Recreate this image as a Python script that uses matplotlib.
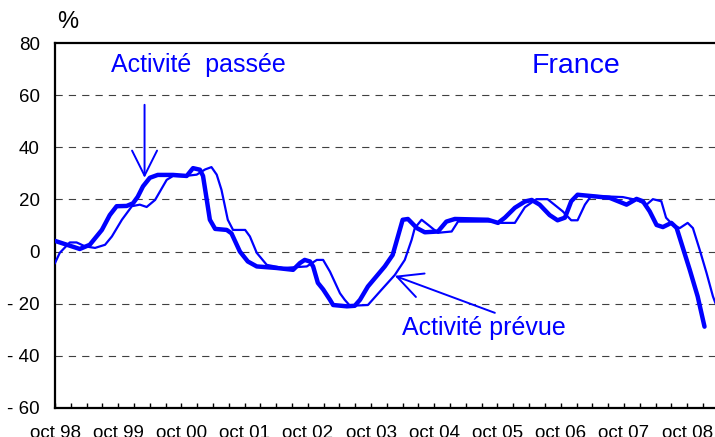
import matplotlib
matplotlib.use("Agg")
import matplotlib.pyplot as plt
from matplotlib.patches import ArrowStyle

plt.rcParams['font.family'] = ['Liberation Sans', 'DejaVu Sans']

# month index: 0 = oct 98
passee_m = [0, 4.7, 6.6, 8.9, 10.4, 11.7, 13.6, 14.8, 15.7, 16.7, 18, 19.5, 22.4, 25, 26.2,
            27.5, 28.1, 28.8, 29.4, 30.4, 32.6, 33.5, 35.1, 36.6, 38.3, 42.1, 45.2, 46.5,
            47.4, 48.4, 49, 49.9, 50.9, 52.2, 52.8, 55.4, 56.9, 57.9, 59.4, 62.6, 64.1,
            65.1, 66, 67, 68.7, 70.2, 72.7, 74.3, 75.9, 82.2, 84.1, 85.4, 87.3, 89.2, 90.5,
            92, 93.9, 95.4, 96.8, 98, 99.2, 102.8, 105.3, 108.5, 110.4, 111.6, 112.9,
            114.2, 115.4, 117, 118, 118.9, 120.5, 122, 123.3]
passee_v = [4.1, 1.0, 2.6, 8.3, 14, 17.4, 17.5, 18.5, 21, 25, 28.3, 29.4, 29.4, 29, 32,
            31.4, 29, 20, 12.2, 8.7, 8.3, 7, 0, -3.8, -5.7, -6.3, -7, -4.4,
            -3.2, -3.8, -5.7, -12, -14.5, -18.5, -20.5, -21, -20.8, -18.5, -13.4, -5.7, -1.3,
            5.8, 12.2, 12.5, 9, 7.4, 7.7, 11.5, 12.5, 12.2, 11, 13, 16.8, 19.2, 19.8,
            18, 14, 12, 13, 19.3, 21.8, 21.1, 20.6, 18, 20.2, 19.3, 15.4,
            10.2, 9.4, 11, 9.1, 3.3, -7, -17.2, -28.8]

prevue_m = [0, 0.9, 2.8, 4.1, 5.7, 7.6, 9.5, 10.8, 12.7, 14.6, 16.1, 17.4, 19, 21.2, 22.4,
            24.3, 26.9, 28.5, 29.7, 30.7, 31.6, 32.8, 33.8, 36.1, 37, 38.3, 40.2, 43.3,
            47.8, 49.7, 50.9, 52.2, 54.1, 55, 56, 59.4, 62, 64.5, 66.4, 67.7, 68.3, 69.6,
            70.8, 72.7, 75.3, 76.5, 82.9, 84.8, 87.3, 89.2, 91.4, 93.5, 96.4, 98, 99.2,
            100.6, 101.8, 105.3, 107.8, 110.4, 112.3, 113.5, 115.1, 116, 117.3, 118.6,
            120.1, 121.1, 122.4, 123.7, 124.9, 125.6]
prevue_v = [-4.4, -0.5, 3.5, 3.5, 2, 1.4, 2.6, 5.8, 12.2, 17.4, 18, 17.1, 19.8, 27.5, 29,
            28.9, 29.5, 31.5, 32.4, 29.5, 23.7, 12.2, 8.3, 8.3, 5.8, -0.5, -5.1, -6.3,
            -5.7, -3.2, -3.2, -7.7, -16, -18.5, -20.8, -20.5, -14.6, -9, -3.2, 4.5, 9, 12.2,
            10.3, 7.2, 7.7, 11.5, 11.5, 11, 11, 17, 20.1, 20.1, 15.4, 12, 12,
            18, 21.4, 21.1, 20.9, 19.8, 18, 20.1, 19.3, 13, 10.2, 9,
            11, 9, 0.6, -8.3, -17.2, -21]

year_labels = ["oct 98", "oct 99", "oct 00", "oct 01", "oct 02", "oct 03",
               "oct 04", "oct 05", "oct 06", "oct 07", "oct 08"]
y_ticks = [-60, -40, -20, 0, 20, 40, 60, 80]
y_labels = ["- 60", "- 40", "- 20", "0", "20", "40", "60", "80"]

blue = "#0000FF"

fig = plt.figure(figsize=(7.15, 4.37), dpi=100)
ax = fig.add_axes([55 / 715, 29 / 437, 669 / 715, 365 / 437])

for y in [-40, -20, 0, 20, 40, 60]:
    ax.axhline(y, color="#404040", lw=0.8, dashes=(6.5, 5.5), zorder=1)

ax.plot(prevue_m, prevue_v, color=blue, lw=1.6, solid_joinstyle="round", zorder=3)
ax.plot(passee_m, passee_v, color=blue, lw=3.2, solid_joinstyle="round",
        solid_capstyle="round", zorder=4)

ax.set_xlim(0, 127)
ax.set_ylim(-60, 80)
ax.set_yticks(y_ticks)
ax.set_yticklabels(y_labels, fontsize=13.5)
ax.tick_params(axis="y", length=0, pad=11)

ax.set_xticks(range(0, 121, 12))
ax.set_xticklabels(year_labels, fontsize=13.5)
ax.set_xticks(range(0, 127, 3), minor=True)
ax.tick_params(axis="x", which="both", direction="in", length=3.5, width=1, pad=12)

for side in ["left", "bottom", "top"]:
    ax.spines[side].set_linewidth(1.6)
ax.spines["right"].set_visible(False)

fig.text(68 / 715, 1 - 22 / 437, "%", fontsize=17, ha="center", va="center")

ax.text(27.3, 71.7, "Activité  passée", color=blue, fontsize=18, ha="center", va="center")
ax.text(98.9, 71.3, "France", color=blue, fontsize=20.5, ha="center", va="center")
ax.text(81.5, -29.3, "Activité prévue", color=blue, fontsize=18, ha="center", va="center")

head = ArrowStyle("->", head_length=1.8, head_width=0.9)
ax.annotate("", xy=(17, 28.3), xytext=(17, 56.3),
            arrowprops=dict(arrowstyle=head, color=blue, lw=1.4, shrinkA=0, shrinkB=0,
                            mutation_scale=10))
ax.annotate("", xy=(64.5, -9.3), xytext=(83.5, -23.5),
            arrowprops=dict(arrowstyle=head, color=blue, lw=1.4, shrinkA=0, shrinkB=0,
                            mutation_scale=10))

fig.savefig("out.png", dpi=100)
